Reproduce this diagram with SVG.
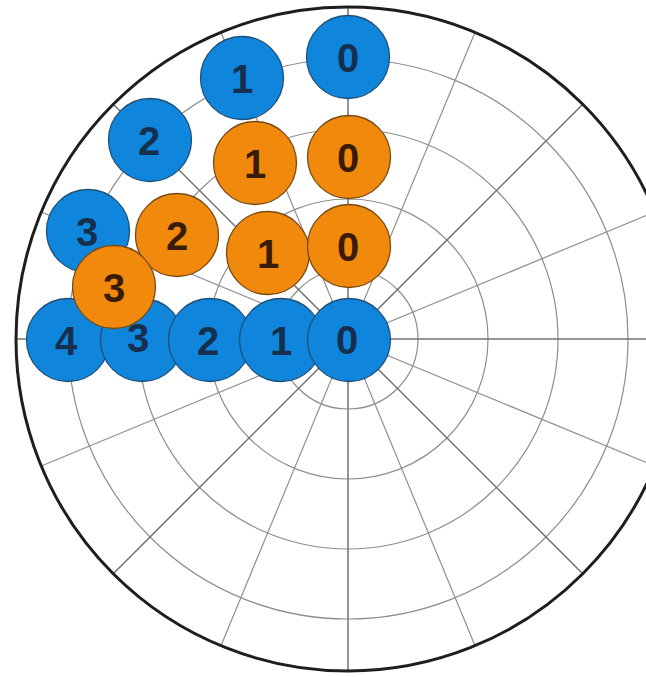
<svg xmlns="http://www.w3.org/2000/svg" width="646" height="677" viewBox="0 0 646 677">
<style>
.ring{fill:none;stroke:#8e8e8e;stroke-width:1.2}
.sp1{stroke:#727272;stroke-width:1.5}
.sp2{stroke:#909090;stroke-width:1.2}
.outer{fill:none;stroke:#1e1e1e;stroke-width:3}
.blue circle{fill:#0f86dc;stroke:#1d4f78;stroke-width:1.3}
.orange circle{fill:#f1890c;stroke:#7a4a12;stroke-width:1.3}
text{font-family:"Liberation Sans",Arial,sans-serif;font-weight:bold;font-size:40px;text-anchor:middle}
.blue text{fill:#14304e}
.orange text{fill:#3a1c05}
</style>
<rect width="646" height="677" fill="#ffffff"/>
<g id="grid">
<circle class="ring" cx="348" cy="339" r="70"/>
<circle class="ring" cx="348" cy="339" r="140"/>
<circle class="ring" cx="348" cy="339" r="210"/>
<circle class="ring" cx="348" cy="339" r="280"/>
<line class="sp2" x1="41.27" y1="211.95" x2="654.73" y2="466.05"/>
<line class="sp2" x1="41.27" y1="466.05" x2="654.73" y2="211.95"/>
<line class="sp2" x1="220.95" y1="32.27" x2="475.05" y2="645.73"/>
<line class="sp2" x1="220.95" y1="645.73" x2="475.05" y2="32.27"/>
<line class="sp1" x1="113.24" y1="104.24" x2="582.76" y2="573.76"/>
<line class="sp1" x1="113.24" y1="573.76" x2="582.76" y2="104.24"/>
<line class="sp1" x1="16" y1="339" x2="680" y2="339"/>
<line class="sp1" x1="348" y1="7" x2="348" y2="671"/>
<circle class="outer" cx="348" cy="339" r="332"/>
</g>
<g id="connectors"></g>
<g id="blue-top-0" class="blue"><circle cx="348" cy="57" r="41.5"/><text x="348" y="71.5">0</text></g>
<g id="blue-top-1" class="blue"><circle cx="242" cy="78" r="41.5"/><text x="242" y="92.5">1</text></g>
<g id="blue-top-2" class="blue"><circle cx="150" cy="140" r="41.5"/><text x="149" y="154.5">2</text></g>
<g id="blue-top-3" class="blue"><circle cx="88" cy="231" r="41.5"/><text x="87" y="245.5">3</text></g>
<g id="blue-row-4" class="blue"><circle cx="68" cy="340" r="41.5"/><text x="66" y="354.5">4</text></g>
<g id="blue-row-3" class="blue"><circle cx="142" cy="340" r="41.5"/><text x="138" y="351.5">3</text></g>
<g id="blue-row-2" class="blue"><circle cx="210" cy="340" r="41.5"/><text x="208" y="354.5">2</text></g>
<g id="blue-row-1" class="blue"><circle cx="281" cy="340" r="41.5"/><text x="281" y="354.5">1</text></g>
<g id="blue-row-0" class="blue"><circle cx="349" cy="340" r="41.5"/><text x="347" y="353.5">0</text></g>
<g id="orange-1a" class="orange"><circle cx="255" cy="163" r="41.5"/><text x="255" y="177.5">1</text></g>
<g id="orange-0a" class="orange"><circle cx="349" cy="157" r="41.5"/><text x="348" y="171.5">0</text></g>
<g id="orange-1b" class="orange"><circle cx="268" cy="253" r="41.5"/><text x="268" y="267.5">1</text></g>
<g id="orange-0b" class="orange"><circle cx="349" cy="246" r="41.5"/><text x="348" y="260.5">0</text></g>
<g id="orange-2" class="orange"><circle cx="177" cy="235" r="41.5"/><text x="177" y="249.5">2</text></g>
<g id="orange-3" class="orange"><circle cx="114" cy="287" r="41.5"/><text x="114" y="301.5">3</text></g>
</svg>
